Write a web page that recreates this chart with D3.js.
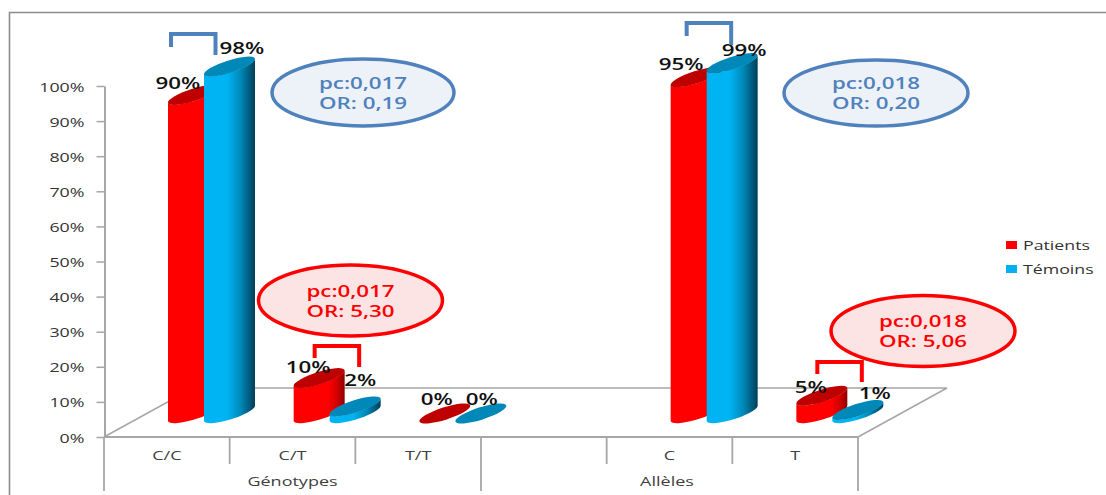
<!DOCTYPE html>
<html>
<head>
<meta charset="utf-8">
<script src="https://cdn.jsdelivr.net/npm/d3@7/dist/d3.min.js"></script>
<style>
html,body{margin:0;padding:0;background:#fff;}
svg{display:block;}
text{font-family:"Open Sans",sans-serif;}
</style>
</head>
<body>
<svg id="chart" width="1106" height="495"></svg>
<script>
// Chart values
const categories = ["C/C", "C/T", "T/T", "", "C", "T"];
const groups = ["Génotypes", "Allèles"];
const groupSpans = [3, 3];
const seriesNames = ["Patients", "Témoins"];
const patients = [90, 10, 0, null, 95, 5];
const temoins = [98, 2, 0, null, 99, 1];
const yTicks = [0, 10, 20, 30, 40, 50, 60, 70, 80, 90, 100];
const callouts = [
  { lines: ["pc:0,017", "OR: 0,19"], tone: "blue" },
  { lines: ["pc:0,018", "OR: 0,20"], tone: "blue" },
  { lines: ["pc:0,017", "OR: 5,30"], tone: "red" },
  { lines: ["pc:0,018", "OR: 5,06"], tone: "red" }
];

const svg = d3.select("#chart");
const defs = svg.append("defs");

const GRID = "#a6a6a6";
const tones = {
  blue: { stroke: "#4f81bd", fill: "#edf2f9", text: "#4f81bd" },
  red: { stroke: "#ff0000", fill: "#fde4e4", text: "#ff0000" }
};

// Horizontally stretched text, as the slide was widened when exported.
function stretched(sel, x, y, sx) {
  return sel.attr("transform", `translate(${x},${y}) scale(${sx},1)`);
}

// Scales: the axis runs on the front edge of the floor, the cylinders stand further back.
const x = d3.scaleBand().domain(d3.range(categories.length)).range([104, 858]);
const y = d3.scaleLinear().domain([0, 100]).range([437, 86]);
const barY = d3.scaleLinear().domain([0, 100]).range([413.5, 59.5]);

// Outer frame lines
svg.append("path").attr("d", "M9.5,495 V12.5 H1106")
  .attr("fill", "none").attr("stroke", "#8c8c8c").attr("stroke-width", 1.6);

// Floor of the 3D plot
const depthX = 89, depthY = 49;
svg.append("path")
  .attr("d", `M104,437 L${104 + depthX},${437 - depthY} L${858 + depthX},${437 - depthY} L858,437`)
  .attr("fill", "none").attr("stroke", GRID).attr("stroke-width", 1.5);

// Value axis
const yAxis = svg.append("g").attr("transform", "translate(104.5,0)")
  .call(d3.axisLeft(y).tickValues(yTicks).tickSize(8).tickSizeOuter(0).tickFormat(d => d + "%").tickPadding(0));
yAxis.select(".domain").attr("stroke", GRID).attr("stroke-width", 2);
yAxis.selectAll(".tick line").attr("stroke", GRID).attr("stroke-width", 1.5);
yAxis.selectAll(".tick text").each(function () {
  stretched(d3.select(this), -20, 5, 1.37)
    .attr("x", 0).attr("y", 0).attr("dy", 0)
    .attr("text-anchor", "end")
    .attr("font-size", 13).attr("fill", "#333").attr("font-weight", 500);
});

// Category axis: two levels of separators under the floor
svg.append("line").attr("x1", 104).attr("x2", 858).attr("y1", 437).attr("y2", 437)
  .attr("stroke", GRID).attr("stroke-width", 2);
let start = 0;
const bounds = [0];
groupSpans.forEach(n => { start += n; bounds.push(start); });
d3.range(categories.length + 1).forEach(i => {
  const px = x.bandwidth() * i + 104;
  svg.append("line").attr("x1", px).attr("x2", px).attr("y1", 437)
    .attr("y2", bounds.includes(i) ? 491 : 464)
    .attr("stroke", GRID).attr("stroke-width", 1.8);
});
categories.forEach((c, i) => {
  stretched(svg.append("text"), x(i) + x.bandwidth() / 2, 460, 1.44)
    .attr("text-anchor", "middle").attr("font-size", 12.5).attr("fill", "#404040").text(c);
});
groups.forEach((g, i) => {
  const cx = (x.bandwidth() * bounds[i] + x.bandwidth() * bounds[i + 1]) / 2 + 104 - i * 2.5;
  stretched(svg.append("text"), cx, 486, 1.44)
    .attr("text-anchor", "middle").attr("font-size", 12.5).attr("fill", "#404040").text(g);
});

// Cylinder shading
function shade(id, stops) {
  const g = defs.append("linearGradient").attr("id", id);
  stops.forEach(s => g.append("stop").attr("offset", s[0]).attr("stop-color", s[1]));
}
shade("redBody", [[0, "#ff0000"], [0.68, "#ff0000"], [0.86, "#d00000"], [1, "#8a0000"]]);
shade("blueBody", [[0, "#00b4f4"], [0.45, "#00b4f4"], [0.72, "#0088b8"], [1, "#003f58"]]);

const seriesStyle = [
  { values: patients, body: "url(#redBody)", cap: "#bf0000", left: 64 },
  { values: temoins, body: "url(#blueBody)", cap: "#0088b8", left: 100 }
];

// A cylinder is a tilted ellipse swept vertically between the floor and its value.
const HALF_W = 25.5, RX = 26.7, RY = 6.2, TILT = -17.6, EDGE = 7.6;
function drawCylinder(px, value, s) {
  const cx = px + HALF_W, top = barY(value), base = barY(0);
  const g = svg.append("g");
  if (value > 0) {
    g.append("path")
      .attr("d", `M${cx - HALF_W},${top + EDGE} L${cx - HALF_W},${base + EDGE}` +
        ` A${RX},${RY} ${TILT} 0 0 ${cx + HALF_W},${base - EDGE}` +
        ` L${cx + HALF_W},${top - EDGE}` +
        ` A${RX},${RY} ${TILT} 0 1 ${cx - HALF_W},${top + EDGE} Z`)
      .attr("fill", s.body);
  }
  g.append("ellipse").attr("cx", 0).attr("cy", 0).attr("rx", RX).attr("ry", RY)
    .attr("transform", `translate(${cx},${top}) rotate(${TILT})`)
    .attr("fill", s.cap);
}
categories.forEach((c, i) => {
  if (patients[i] === null) return;
  seriesStyle.forEach(s => drawCylinder(x(i) + s.left, s.values[i], s));
});

// Percentage labels, nudged off the cylinder tops
const patientNudge = [[-15.5, -6], [-11, -5], [-8, -8.5], [], [-15, -7], [-11, -3]];
const temoinNudge = [[12.5, -12.6], [5, -20], [1, -8.5], [], [12, -7], [17, -11]];
categories.forEach((c, i) => {
  if (patients[i] === null) return;
  [[0, patients, patientNudge], [1, temoins, temoinNudge]].forEach(([k, vals, nudge]) => {
    const s = seriesStyle[k];
    const px = x(i) + s.left + HALF_W + nudge[i][0];
    const py = barY(vals[i]) + nudge[i][1];
    stretched(svg.append("text"), px, py, 1.44)
      .attr("text-anchor", "middle").attr("font-size", 15.5).attr("font-weight", 600)
      .attr("fill", "#111").text(vals[i] + "%");
  });
});

// Significance brackets linking the two series of a category
function bracket(i, inset, top, leftDrop, rightDrop, color) {
  const lx = x(i) + inset, rx = lx + 44.5;
  return svg.append("path")
    .attr("d", `M${lx},${top + leftDrop} V${top} H${rx} V${top + rightDrop}`)
    .attr("fill", "none").attr("stroke", color).attr("stroke-width", 4);
}
bracket(0, 67, 34, 13, 21, tones.blue.stroke);
bracket(4, 80, 23, 13, 22, tones.blue.stroke);
bracket(1, 85, 346, 12, 21, tones.red.stroke);
bracket(5, 85, 362, 12, 20, tones.red.stroke);

// Callout ellipses with the statistics
const calloutPos = [[363, 92.5, 91, 33.5], [876, 93, 92, 33], [350.5, 300.5, 92, 35.5], [923, 331, 92, 35.5]];
callouts.forEach((d, i) => {
  const [cx, cy, rx, ry] = calloutPos[i];
  const t = tones[d.tone];
  svg.append("ellipse").attr("cx", cx).attr("cy", cy).attr("rx", rx).attr("ry", ry)
    .attr("fill", t.fill).attr("stroke", t.stroke).attr("stroke-width", 3.5);
  d.lines.forEach((line, k) => {
    stretched(svg.append("text"), cx, cy - 4 + k * 20, 1.44)
      .attr("text-anchor", "middle").attr("font-size", 15.5).attr("font-weight", 600)
      .attr("fill", t.text).text(line);
  });
});

// Legend
const legendColors = ["#ff0000", "#00b0f0"];
const legendY = [245, 269];
seriesNames.forEach((n, i) => {
  svg.append("rect").attr("x", 1006).attr("y", legendY[i] - 4).attr("width", 11).attr("height", 8)
    .attr("fill", legendColors[i]);
  stretched(svg.append("text"), 1023, legendY[i] + 4.5, 1.42)
    .attr("font-size", 12.5).attr("fill", "#333").text(n);
});
</script>
</body>
</html>
